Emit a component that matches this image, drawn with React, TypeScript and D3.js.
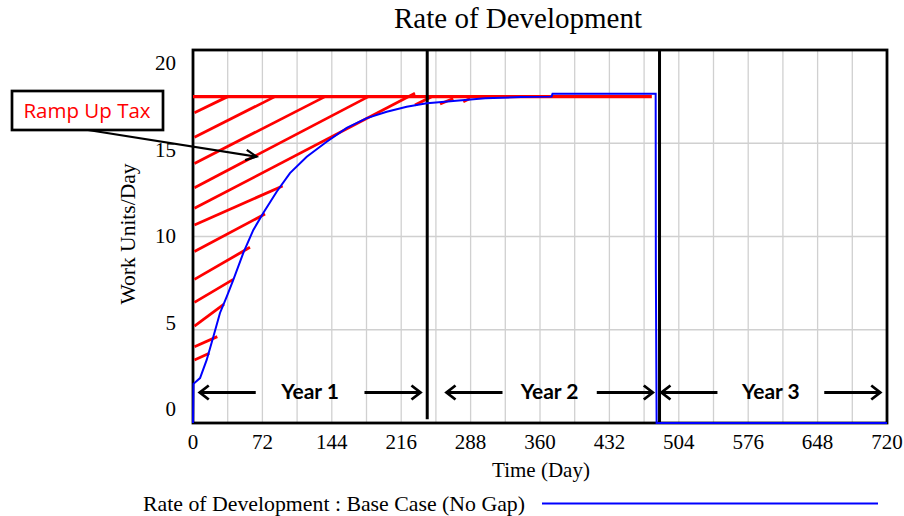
import React from "react";
import * as d3 from "d3";

const width = 904;
const height = 516;
const margin = { top: 50, right: 17, bottom: 93, left: 193 };

// blue simulated series: time (day) and rate (work units/day)
const timeDays = [0, 0.5, 7.3, 14.2, 21.1, 28, 35, 41.8, 52.2, 62.6, 72.9, 86.8, 100.6, 118, 138.7, 159.5, 180.3, 201, 221.7, 242.5, 249, 303, 340, 372, 373, 480, 480.2, 481, 720];
const rateValues = [0, 2.1, 2.41, 3.38, 4.63, 5.9, 6.77, 7.67, 9.12, 10.35, 11.26, 12.4, 13.4, 14.28, 15.08, 15.82, 16.35, 16.69, 16.96, 17.14, 17.17, 17.41, 17.48, 17.5, 17.66, 17.66, 8.1, 0, 0];

// full-productivity reference line
const rampLevel = 17.5;
const rampEndDay = 476;

// red hatching, "ramp up tax"
const hatchStartDay = [1.5, 1.5, 1.5, 1.5, 1.5, 1.5, 1.5, 1.5, 1.5, 1.5, 1.5, 1.5, 230.3, 256.3, 280.4];
const hatchStartVal = [16.64, 15.32, 13.92, 12.62, 11.51, 10.62, 9.19, 7.7, 6.47, 5.2, 4.09, 3.38, 17.05, 17.1, 17.23];
const hatchEndDay = [36, 85, 137, 182, 230.3, 93, 74.7, 59.1, 41.8, 32.2, 25.2, 16.9, 247.6, 270, 287.4];
const hatchEndVal = [17.5, 17.5, 17.5, 17.5, 17.68, 12.71, 11.21, 9.42, 7.7, 6.38, 4.63, 3.74, 17.5, 17.4, 17.4];

const yearDividers = [243, 484];
const dividerBottoms = [0.2, 0];
const yearLabels = ["Year 1", "Year 2", "Year 3"];
const yearStarts = [7, 263, 486];
const yearEnds = [236, 477, 713];

const xTicks = [0, 72, 144, 216, 288, 360, 432, 504, 576, 648, 720];
const xGrid = d3.range(36, 720, 36);
const yTicks = [0, 5, 10, 15, 20];
const yGrid = [5, 10, 15];

const taxArrowTip = { day: 66, value: 14.28 };

const serif = "'Liberation Serif', 'Times New Roman', serif";
const sans = "Lato, 'Open Sans', sans-serif";

function Chevron({ x, y, dir }: { x: number; y: number; dir: number }) {
  // open arrowhead pointing left (dir=-1) or right (dir=1)
  return (
    <path
      d={`M${x - dir * 9},${y - 7}L${x},${y}L${x - dir * 9},${y + 7}`}
      fill="none"
      stroke="#000"
      strokeWidth={2.8}
    />
  );
}

export default function App() {
  const x = d3.scaleLinear().domain([0, 720]).range([margin.left, width - margin.right]);
  const y = d3.scaleLinear().domain([0, 20]).range([height - margin.bottom, margin.top]);
  // the tool that drew the original puts y labels on their own spacing
  const yLabel = d3.scaleLinear().domain([0, 20]).range([416, 70]);

  const line = d3
    .line<number>()
    .x((_, i) => x(timeDays[i]))
    .y((d) => y(d));

  const x0 = x(0);
  const x1 = x(720);
  const y0 = y(0);
  const y1 = y(20);

  const arrowLen = 56;
  const yearY = 392.5;

  const tipX = x(taxArrowTip.day);
  const tipY = y(taxArrowTip.value);
  const tailX = 88;
  const tailY = 130;
  const ang = Math.atan2(tipY - tailY, tipX - tailX);
  const headL = 12;
  const w1 = [tipX - headL * Math.cos(ang - 0.45), tipY - headL * Math.sin(ang - 0.45)];
  const w2 = [tipX - headL * Math.cos(ang + 0.45), tipY - headL * Math.sin(ang + 0.45)];

  return (
    <svg
      width={width}
      height={height}
      style={{ position: "absolute", left: 0, top: 0, background: "#fff" }}
    >
      <text x={518} y={28} textAnchor="middle" fontFamily={serif} fontSize={29} fill="#000">
        Rate of Development
      </text>

      {/* grid */}
      {xGrid.map((d) => (
        <line key={"gx" + d} x1={x(d)} x2={x(d)} y1={y1} y2={y0} stroke="#d0d0d0" strokeWidth={1.3} />
      ))}
      {yGrid.map((d) => (
        <line key={"gy" + d} x1={x0} x2={x1} y1={y(d)} y2={y(d)} stroke="#d0d0d0" strokeWidth={1.3} />
      ))}

      <rect x={x0} y={y1} width={x1 - x0} height={y0 - y1} fill="none" stroke="#000" strokeWidth={2.8} />

      {/* ramp up tax */}
      <line x1={x0} x2={x(rampEndDay)} y1={y(rampLevel)} y2={y(rampLevel)} stroke="#ff0000" strokeWidth={3.2} />
      {hatchStartDay.map((d, i) => (
        <line
          key={"h" + i}
          x1={x(d)}
          y1={y(hatchStartVal[i])}
          x2={x(hatchEndDay[i])}
          y2={y(hatchEndVal[i])}
          stroke="#ff0000"
          strokeWidth={2.8}
        />
      ))}

      {yearDividers.map((d, i) => (
        <line key={"yd" + i} x1={x(d)} x2={x(d)} y1={y1} y2={y(dividerBottoms[i])} stroke="#000" strokeWidth={3} />
      ))}

      <path d={line(rateValues) || ""} fill="none" stroke="#0000ff" strokeWidth={2} />

      {/* axes labels */}
      {xTicks.map((d) => (
        <text key={"xt" + d} x={x(d)} y={449} textAnchor="middle" fontFamily={serif} fontSize={21} fill="#000">
          {d}
        </text>
      ))}
      {yTicks.map((d) => (
        <text key={"yt" + d} x={176} y={yLabel(d)} textAnchor="end" fontFamily={serif} fontSize={21} fill="#000">
          {d}
        </text>
      ))}
      <text x={541} y={477} textAnchor="middle" fontFamily={serif} fontSize={21} fill="#000">
        Time (Day)
      </text>
      <text
        transform={`translate(135,234) rotate(-90)`}
        textAnchor="middle"
        fontFamily={serif}
        fontSize={21.5}
        fill="#000"
      >
        Work Units/Day
      </text>

      {/* legend */}
      <text x={143} y={511} fontFamily={serif} fontSize={21} fill="#000" textLength={382} lengthAdjust="spacingAndGlyphs">
        Rate of Development : Base Case (No Gap)
      </text>
      <line x1={542} x2={878} y1={503.5} y2={503.5} stroke="#0000ff" strokeWidth={2} />

      {/* year spans */}
      {yearLabels.map((lab, i) => {
        const a = x(yearStarts[i]);
        const b = x(yearEnds[i]);
        const mid = (a + b) / 2;
        return (
          <g key={lab}>
            <line x1={a} x2={a + arrowLen} y1={yearY} y2={yearY} stroke="#000" strokeWidth={2.8} />
            <Chevron x={a} y={yearY} dir={-1} />
            <line x1={b - arrowLen} x2={b} y1={yearY} y2={yearY} stroke="#000" strokeWidth={2.8} />
            <Chevron x={b} y={yearY} dir={1} />
            <text x={mid} y={399} textAnchor="middle" fontFamily={sans} fontWeight="bold" fontSize={21} fill="#000">
              {lab}
            </text>
          </g>
        );
      })}

      {/* callout */}
      <line x1={tailX} y1={tailY} x2={tipX} y2={tipY} stroke="#000" strokeWidth={2.2} />
      <path d={`M${w1[0]},${w1[1]}L${tipX},${tipY}L${w2[0]},${w2[1]}`} fill="none" stroke="#000" strokeWidth={2.2} />
      <rect x={12} y={91} width={151} height={39} fill="#fff" stroke="#000" strokeWidth={2.7} />
      <text x={87} y={117.5} textAnchor="middle" fontFamily="'Open Sans', sans-serif" fontSize={20.5} fill="#ff0000">
        Ramp Up Tax
      </text>
    </svg>
  );
}
